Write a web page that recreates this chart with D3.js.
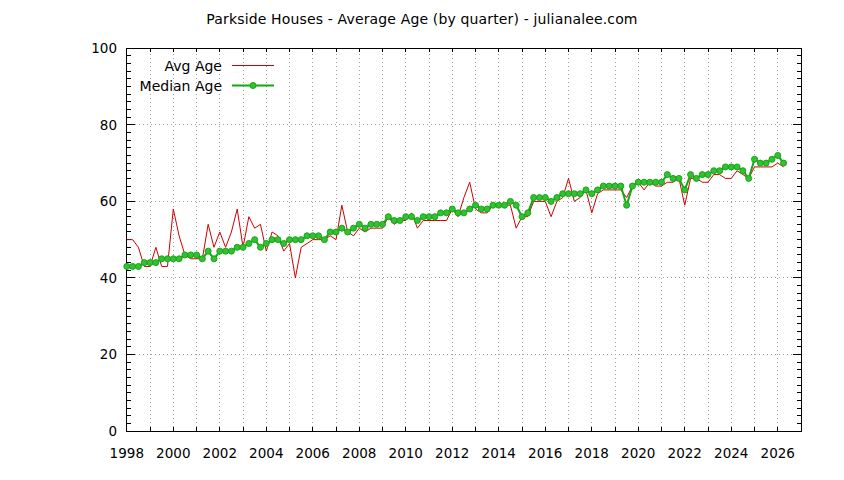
<!DOCTYPE html>
<html>
<head>
<meta charset="utf-8">
<script src="https://cdn.jsdelivr.net/npm/d3@7"></script>
<style>
  html, body { margin: 0; padding: 0; background: #fff; }
  svg text { font-family: "DejaVu Sans", sans-serif; fill: #000; }
</style>
</head>
<body>
<svg id="chart" width="844" height="480"></svg>
<script>
// ---- data (quarterly, starting 1998 Q1) ----
const startYear = 1998;
const avgAge = [
  50, 50, 48, 43, 43, 48, 43, 43, 58, 51, 46, 45, 45, 45, 54, 48, 52, 48, 52, 58,
  48, 56, 53, 54, 47, 52, 51, 47, 49, 40, 48, 49, 50, 50, 50, 51, 50, 59, 52, 51,
  53, 52, 53, 53, 53, 56, 54, 55, 55, 57, 53, 55, 55, 55, 55, 55, 58, 56, 61, 65,
  58, 57, 57, 59, 59, 59, 59, 53, 56, 56, 60, 60, 60, 56, 60, 61, 66, 60, 61, 63,
  57, 62, 63, 63, 63, 63, 61, 64, 65, 63, 65, 64, 64, 65, 65, 66, 59, 66, 66, 65,
  65, 67, 67, 66, 66, 68, 67, 66, 69, 69, 69, 69, 70, 69
];
const medianAge = [
  43, 43, 43, 44, 44, 44, 45, 45, 45, 45, 46, 46, 46, 45, 47, 45, 47, 47, 47, 48,
  48, 49, 50, 48, 49, 50, 50, 49, 50, 50, 50, 51, 51, 51, 50, 52, 52, 53, 52, 53,
  54, 53, 54, 54, 54, 56, 55, 55, 56, 56, 55, 56, 56, 56, 57, 57, 58, 57, 57, 58,
  59, 58, 58, 59, 59, 59, 60, 59, 56, 57, 61, 61, 61, 60, 61, 62, 62, 62, 62, 63,
  62, 63, 64, 64, 64, 64, 59, 64, 65, 65, 65, 65, 65, 67, 66, 66, 63, 67, 66, 67,
  67, 68, 68, 69, 69, 69, 68, 66, 71, 70, 70, 71, 72, 70
];
const xTickLabels = [1998, 2000, 2002, 2004, 2006, 2008, 2010, 2012, 2014, 2016, 2018, 2020, 2022, 2024, 2026];
const yTickLabels = [0, 20, 40, 60, 80, 100];
const titleText = "Parkside Houses - Average Age (by quarter) - julianalee.com";
const seriesNames = ["Avg Age", "Median Age"];

// ---- layout ----
const svg = d3.select("#chart");
const L = 126.8, R = 801, T = 48.3, B = 431;
const x = d3.scaleLinear().domain([1998, 2027]).range([L, R]);
const y = d3.scaleLinear().domain([0, 100]).range([B, T]);

const avgPts = avgAge.map((v, i) => ({ t: startYear + i / 4, v }));
const medPts = medianAge.map((v, i) => ({ t: startYear + i / 4, v }));

// grid
const gridColor = "#a0a0a0";
const g = svg.append("g");
d3.range(1999, 2027).forEach(yr => {
  g.append("line").attr("x1", x(yr)).attr("x2", x(yr)).attr("y1", B).attr("y2", T)
    .attr("stroke", gridColor).attr("stroke-width", 1).attr("stroke-dasharray", "1,3")
    .attr("shape-rendering", "crispEdges");
});
[20, 40, 60, 80].forEach(v => {
  g.append("line").attr("x1", L).attr("x2", R).attr("y1", y(v)).attr("y2", y(v))
    .attr("stroke", gridColor).attr("stroke-width", 1).attr("stroke-dasharray", "1,3")
    .attr("shape-rendering", "crispEdges");
});

// ticks
const tk = svg.append("g").attr("stroke", "#000").attr("stroke-width", 1).attr("shape-rendering", "crispEdges");
d3.range(1999, 2027).forEach(yr => {
  tk.append("line").attr("x1", x(yr)).attr("x2", x(yr)).attr("y1", B).attr("y2", B - 4);
  tk.append("line").attr("x1", x(yr)).attr("x2", x(yr)).attr("y1", T).attr("y2", T + 4);
});
d3.range(2, 100, 2).forEach(v => {
  const major = v % 20 === 0;
  const len = major ? 8 : 4;
  tk.append("line").attr("x1", L).attr("x2", L + len).attr("y1", y(v)).attr("y2", y(v));
  tk.append("line").attr("x1", R).attr("x2", R - len).attr("y1", y(v)).attr("y2", y(v));
});

// border
svg.append("rect").attr("x", L).attr("y", T).attr("width", R - L).attr("height", B - T)
  .attr("fill", "none").attr("stroke", "#000").attr("stroke-width", 1).attr("shape-rendering", "crispEdges");

// tick labels
svg.append("g").selectAll("text").data(xTickLabels).join("text")
  .attr("x", d => x(d)).attr("y", 458).attr("text-anchor", "middle")
  .attr("font-size", 13.5).text(d => d);
svg.append("g").selectAll("text").data(yTickLabels).join("text")
  .attr("x", 117).attr("y", d => y(d) + 5).attr("text-anchor", "end")
  .attr("font-size", 13.5).text(d => d);

// title
svg.append("text").attr("x", 422).attr("y", 24).attr("text-anchor", "middle")
  .attr("font-size", 14).attr("letter-spacing", "0.15px").text(titleText);

// series
const line = d3.line().x(d => x(d.t)).y(d => y(d.v));
const redColor = "#d00000";
const greenLine = "#14a814";
const greenFill = "#34c034";

svg.append("path").datum(avgPts).attr("d", line)
  .attr("fill", "none").attr("stroke", redColor).attr("stroke-width", 1);
svg.append("path").datum(medPts).attr("d", line)
  .attr("fill", "none").attr("stroke", greenLine).attr("stroke-width", 2);
svg.append("g").selectAll("circle").data(medPts).join("circle")
  .attr("cx", d => x(d.t)).attr("cy", d => y(d.v)).attr("r", 3)
  .attr("fill", greenFill).attr("stroke", greenLine).attr("stroke-width", 1);

// legend
const lg = svg.append("g");
lg.append("text").attr("x", 222).attr("y", 70.5).attr("text-anchor", "end").attr("font-size", 14)
  .text(seriesNames[0]);
lg.append("line").attr("x1", 232).attr("x2", 274).attr("y1", 65.5).attr("y2", 65.5)
  .attr("stroke", redColor).attr("stroke-width", 1);
lg.append("text").attr("x", 222).attr("y", 90.5).attr("text-anchor", "end").attr("font-size", 14)
  .text(seriesNames[1]);
lg.append("line").attr("x1", 232).attr("x2", 274).attr("y1", 85.5).attr("y2", 85.5)
  .attr("stroke", greenLine).attr("stroke-width", 2);
lg.append("circle").attr("cx", 253).attr("cy", 85.5).attr("r", 3)
  .attr("fill", greenFill).attr("stroke", greenLine).attr("stroke-width", 1);
</script>
</body>
</html>
